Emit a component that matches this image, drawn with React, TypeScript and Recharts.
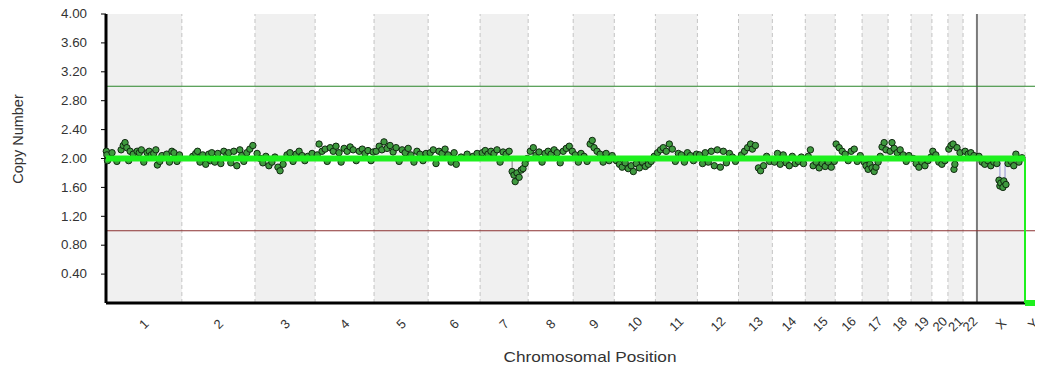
import React from 'react';
import { ComposedChart, XAxis, YAxis, Scatter, ReferenceArea, ReferenceLine, Label } from 'recharts';

const chromNames = ['1','2','3','4','5','6','7','8','9','10','11','12','13','14','15','16','17','18','19','20','21','22','X','Y'];
const chromSizes = [251,242,199,195,179,172,159,149,136,136,139,136,112,109,99,89,86,76,69,53,50,46,159,53];
const shadedChroms = ['1','3','5','7','9','11','13','15','17','19','21','X'];
const yTicks = [0.4,0.8,1.2,1.6,2.0,2.4,2.8,3.2,3.6,4.0];
const gainThreshold = 3.0;
const lossThreshold = 1.0;

// probe [position within chromosome (Mb), copy number]
const probes: number[][][] = [
  [[1,2.1],[3,2.05],[5,1.97],[20,2.08],[36,1.96],[50,2.12],[57,2.18],[63,2.22],[69,2.15],[75,1.97],[80,2.1],[90,2.06],[103,2.1],[110,2.08],[117,2.12],[125,1.95],[136,2.08],[143,2.1],[150,2.05],[158,2.07],[165,2.12],[170,1.91],[178,1.96],[185,2.04],[201,2.06],[210,1.95],[218,2.1],[225,2.08],[235,1.96],[243,2.05]],
  [[36,2.03],[46,2.07],[52,2.1],[60,1.95],[69,2.05],[79,1.92],[89,2.06],[95,1.97],[99,2.08],[109,1.95],[119,2.07],[129,1.93],[139,2.1],[149,2.05],[155,2.08],[162,1.94],[172,2.1],[182,1.9],[192,2.12],[198,2.04],[205,1.96],[215,2.08],[225,2.13],[235,2.18]],
  [[7,2.07],[17,2.0],[26,1.94],[36,2.03],[46,1.9],[56,1.95],[66,2.02],[76,1.88],[83,1.83],[93,1.92],[106,2.05],[116,2.08],[126,1.96],[136,2.06],[146,2.1],[156,2.04],[165,1.97],[175,2.03],[189,2.07]],
  [[7,2.05],[13,2.2],[23,2.1],[33,2.13],[40,1.96],[50,2.15],[60,2.1],[69,2.17],[79,2.08],[86,1.95],[96,2.14],[106,2.1],[116,2.16],[126,2.12],[136,1.97],[146,2.1],[156,2.13],[165,2.07],[175,2.11],[185,1.97],[192,2.09]],
  [[7,2.1],[17,2.17],[26,2.12],[33,2.23],[43,2.14],[53,2.18],[63,2.09],[73,2.15],[83,1.96],[93,2.12],[103,2.08],[113,2.14],[122,2.05],[132,1.95],[142,2.1],[152,2.06],[162,1.97],[172,2.07]],
  [[7,2.08],[17,2.12],[26,1.93],[36,2.1],[46,2.07],[56,2.13],[66,2.05],[76,1.95],[86,2.08],[93,1.92],[109,2.02],[129,2.06],[149,2.03],[162,2.07]],
  [[7,2.08],[17,2.11],[26,2.06],[36,2.1],[46,2.07],[56,2.12],[66,1.95],[76,2.09],[86,2.06],[96,2.1],[106,1.82],[112,1.77],[116,1.68],[122,1.8],[129,1.74],[136,1.84],[142,1.86],[149,1.93],[156,2.0]],
  [[7,2.1],[17,2.15],[26,2.05],[36,2.09],[46,1.95],[56,2.07],[66,2.1],[76,2.06],[86,2.12],[96,2.08],[106,1.94],[116,2.1],[126,2.14],[136,2.17],[146,2.1]],
  [[7,2.05],[17,1.95],[26,2.07],[36,2.03],[46,1.96],[56,2.2],[63,2.25],[69,2.15],[79,2.1],[89,2.06],[99,1.95],[109,2.07],[119,1.97],[129,2.04]],
  [[7,1.97],[17,1.92],[26,1.88],[36,1.94],[46,1.86],[56,1.9],[63,1.82],[73,1.93],[83,1.87],[93,1.95],[103,1.89],[113,1.92],[122,1.96],[132,2.03]],
  [[7,2.08],[17,2.12],[26,2.15],[36,2.1],[46,2.2],[56,2.13],[66,1.96],[76,2.07],[86,2.05],[96,1.95],[106,2.08],[116,2.04],[126,1.97],[136,2.06]],
  [[7,2.05],[17,1.93],[26,2.08],[36,1.95],[46,2.1],[56,1.9],[66,2.12],[76,1.88],[86,2.1],[96,1.94],[106,2.07],[116,2.02],[126,1.96]],
  [[10,2.05],[20,2.1],[30,2.15],[40,2.2],[46,2.13],[56,2.18],[66,1.87],[73,1.83],[83,1.9],[93,2.03],[103,1.96]],
  [[7,1.95],[17,2.07],[26,1.92],[36,2.05],[46,1.94],[56,1.9],[66,2.03],[76,1.93],[86,1.96],[96,2.02],[103,1.93]],
  [[10,2.03],[17,2.12],[26,1.9],[36,1.95],[46,1.87],[56,1.93],[66,1.89],[76,1.95],[86,1.88],[96,1.96]],
  [[3,2.2],[13,2.15],[23,2.1],[33,2.06],[43,1.97],[53,2.1],[63,2.13],[73,1.96],[83,2.04]],
  [[7,1.95],[13,1.9],[20,1.85],[26,1.92],[33,1.87],[40,1.82],[46,1.88],[53,1.95],[60,2.03],[66,2.16],[73,2.22],[79,2.12]],
  [[7,2.1],[13,2.22],[20,2.14],[30,2.08],[40,2.12],[50,2.05],[60,1.96],[69,2.04]],
  [[7,2.0],[17,1.93],[26,1.88],[36,1.95],[46,1.9],[56,1.97],[66,2.02]],
  [[3,2.1],[13,2.05],[23,1.95],[33,1.92],[43,1.97]],
  [[3,2.13],[10,2.18],[17,2.2],[20,1.85],[23,1.92],[30,2.15],[40,2.08]],
  [[7,2.1],[17,2.06],[26,2.08],[36,2.04]],
  [[7,2.03],[17,1.95],[26,1.92],[36,1.97],[46,1.9],[56,1.95],[66,1.93],[73,1.7],[76,1.62],[79,1.66],[86,1.6],[89,1.69],[96,1.64],[103,1.93],[113,1.96],[122,1.9],[129,2.06],[139,1.95],[149,2.01]],
  [],
];

// segments: [first chromosome, last chromosome, copy number]
const segments: [string, string, number][] = [['1','X',2.0],['Y','Y',0]];
// thin connector lines at dips: [chromosome, position (Mb), from CN, to CN, colour]
const dipLines: [string, number, number, number, string][] = [
  ['7',106,2.0,1.84,'#8a8a8a'],
  ['X',76,1.97,1.66,'#a0a0d8'],
  ['X',93,1.97,1.68,'#a0a0d8'],
];

const starts: number[] = [];
{
  let acc = 0;
  for (const s of chromSizes) { starts.push(acc); acc += s; }
}
const total = chromSizes.reduce((a, b) => a + b, 0);
const idx = (name: string) => chromNames.indexOf(name);
const centers = chromSizes.map((s, i) => starts[i] + s / 2);

const probeData = probes.flatMap((list, i) => list.map(([p, v]) => ({ x: starts[i] + p, y: v })));

const FONT = 'Liberation Sans, Arial, sans-serif';

const YTick = (p: any) => (
  <text x={p.x} y={p.y} dy="0.35em" textAnchor="end" fontSize={12} fill="#333" fontFamily={FONT}
    textLength={26} lengthAdjust="spacingAndGlyphs">
    {Number(p.payload.value).toFixed(2)}
  </text>
);

const XTick = (p: any) => {
  const cx = p.x;
  const cy = p.y + 21;
  const i = p.index;
  return (
    <text x={cx} y={cy} dy="0.35em" textAnchor="middle" fontSize={13} fill="#333" fontFamily={FONT}
      transform={`rotate(-45 ${cx} ${cy})`}>
      {chromNames[i]}
    </text>
  );
};

const emptyShape = () => <g />;
const dotShape = (p: any) => (
  <circle cx={p.cx} cy={p.cy} r={3.2} fill="#3f9a3f" stroke="#102810" strokeWidth={1} />
);

export default function App() {
  return (
    <div style={{ width: 1035, height: 360 }}>
      <ComposedChart width={1035} height={360} margin={{ top: 6, right: 2, left: 0, bottom: 0 }}>
        <XAxis type="number" dataKey="x" domain={[0, total]} ticks={centers} interval={0}
          tick={<XTick />} tickLine={false} tickSize={0} tickMargin={0} height={65}
          axisLine={{ stroke: '#000', strokeWidth: 3 }}>
          <Label content={() => (
            <text x={582} y={354} textAnchor="middle" fontSize={15} fill="#333" fontFamily={FONT}
              textLength={173} lengthAdjust="spacingAndGlyphs">Chromosomal Position</text>
          )} />
        </XAxis>
        <YAxis type="number" dataKey="y" domain={[0, 4]} ticks={yTicks} interval={0}
          width={98} tick={<YTick />} tickSize={5} tickMargin={14}
          tickLine={{ stroke: '#000', strokeWidth: 1 }} axisLine={{ stroke: '#000', strokeWidth: 3 }}>
          <Label content={() => (
            <text x={15} y={131} transform="rotate(-90 15 131)" textAnchor="middle" fontSize={14.5}
              fill="#333" fontFamily={FONT}>Copy Number</text>
          )} />
        </YAxis>
        {shadedChroms.map((c) => (
          <ReferenceArea key={'a' + c} x1={starts[idx(c)]} x2={starts[idx(c)] + chromSizes[idx(c)]}
            y1={0} y2={4} fill="#f0f0f0" fillOpacity={1} stroke="none" />
        ))}
        {starts.slice(1).filter((s) => s !== starts[idx('X')]).map((s, i) => (
          <ReferenceLine key={'b' + i} x={s} stroke="#c4c4c4" strokeDasharray="4 3" strokeWidth={1} />
        ))}
        <ReferenceLine x={starts[idx('X')]} stroke="#7a7a7a" strokeWidth={2} />
        <ReferenceLine y={gainThreshold} stroke="#2a852a" strokeWidth={1} />
        <ReferenceLine y={lossThreshold} stroke="#8b3030" strokeWidth={1} />
        {dipLines.map(([c, p, a, b, col], i) => (
          <Scatter key={'d' + i} data={[{ x: starts[idx(c)] + p, y: a }, { x: starts[idx(c)] + p, y: b }]}
            line={{ stroke: col, strokeWidth: 1.2 }} shape={emptyShape} isAnimationActive={false} />
        ))}
        <Scatter data={probeData} shape={dotShape} isAnimationActive={false} />
        {segments.map(([a, b, cn], i) => (
          <Scatter key={'s' + i}
            data={[{ x: starts[idx(a)], y: cn }, { x: starts[idx(b)] + chromSizes[idx(b)], y: cn }]}
            line={{ stroke: '#1ef01e', strokeWidth: 6 }} shape={emptyShape} isAnimationActive={false} />
        ))}
        {segments.slice(1).map(([a, , cn], i) => (
          <Scatter key={'c' + i}
            data={[{ x: starts[idx(a)], y: segments[i][2] }, { x: starts[idx(a)], y: cn }]}
            line={{ stroke: '#1ef01e', strokeWidth: 2 }} shape={emptyShape} isAnimationActive={false} />
        ))}
      </ComposedChart>
    </div>
  );
}
